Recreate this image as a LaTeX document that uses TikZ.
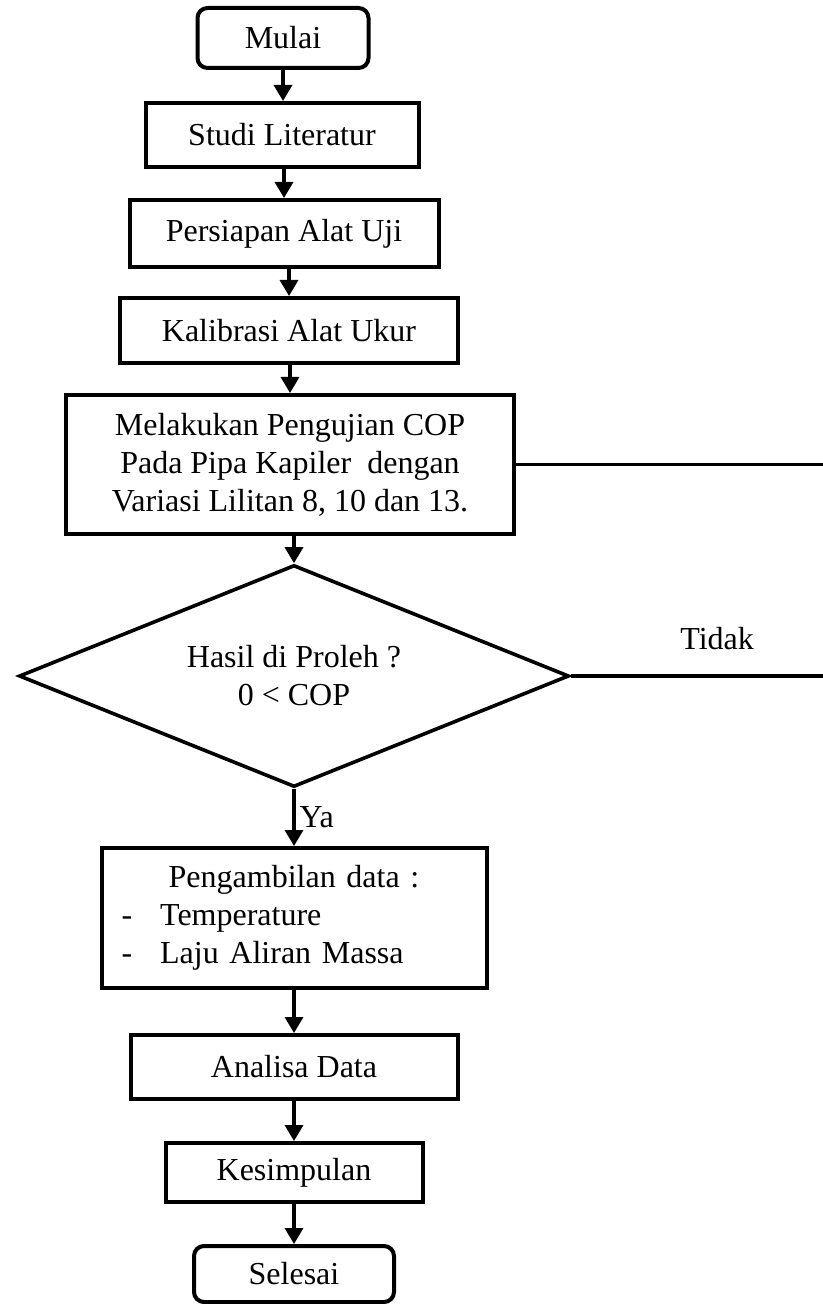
\documentclass[tikz,border=0pt]{standalone}
\usepackage{fontspec}
\setmainfont{Liberation Serif}
\usetikzlibrary{shapes.geometric,arrows.meta}

\newcommand{\butir}[1]{\makebox[172.5pt][l]{-\hspace{14pt}#1}}

\begin{document}
\begin{tikzpicture}[x=0.5pt,y=-0.5pt,
        font=\fontsize{16}{19}\selectfont,
        proses/.style = {draw,line width=2pt,align=center,inner sep=0pt},
        terminal/.style = {proses,rounded corners=5pt},
        keputusan/.style = {draw,line width=1.8pt,diamond,aspect=2.48,
            align=center,inner sep=0pt,minimum width=275pt,minimum height=111pt},
        panah/.style = {line width=1.7pt,-{Triangle[length=8pt,width=9pt]}},
        garis/.style = {line width=1.7pt}]
    \useasboundingbox (0,0) rectangle (823,1304);

    % kotak-kotak
    \node[terminal,minimum width=85.5pt,minimum height=30pt]
        (mulai) at (283,38) {Mulai};
    \node[proses,minimum width=136.5pt,minimum height=32pt]
        (studi) at (282,135) {Studi Literatur};
    \node[proses,minimum width=154.5pt,minimum height=33.5pt]
        (persiapan) at (284,233.5) {Persiapan Alat Uji};
    \node[proses,minimum width=169pt,minimum height=32.5pt]
        (kalibrasi) at (289,330.5) {Kalibrasi Alat Ukur};
    \node[proses,minimum width=224pt,minimum height=69.5pt]
        (uji) at (290,464.5) {Melakukan Pengujian COP\\
        Pada Pipa Kapiler~ dengan\\ Variasi Lilitan 8, 10 dan 13.};
    \node[keputusan] (cek) at (294,676) {Hasil di Proleh ?\\ 0 < COP};
    \node[proses,minimum width=192.5pt,minimum height=70pt,
        inner xsep=10pt,text width=172.5pt]
        (ambil) at (294,918) {Pengambilan data :\\
        \butir{Temperature}\\ \butir{Laju Aliran Massa}};
    \node[proses,minimum width=163.5pt,minimum height=32pt]
        (analisa) at (294,1067) {Analisa Data};
    \node[proses,minimum width=128.5pt,minimum height=29.5pt]
        (simpul) at (294,1172.5) {Kesimpulan};
    \node[terminal,minimum width=100pt,minimum height=28pt]
        (selesai) at (294,1274) {Selesai};

    \coordinate (kanan1) at (823,464.5);
    \coordinate (kanan2) at (823,676);

    % panah
    \draw[panah] (mulai.south) -- (mulai.south |- studi.north);
    \draw[panah] (studi.south -| persiapan) -- (persiapan.north);
    \draw[panah] (persiapan.south -| kalibrasi) -- (kalibrasi.north);
    \draw[panah] (kalibrasi.south -| uji) -- (uji.north);
    \draw[panah] (uji.south -| cek) -- (cek.north);
    \draw[panah] (cek.south) -- node[right,inner sep=2pt] {Ya} (ambil.north);
    \draw[panah] (ambil.south) -- (analisa.north);
    \draw[panah] (analisa.south) -- (simpul.north);
    \draw[panah] (simpul.south) -- (selesai.north);

    % jalur tidak
    \draw[garis] (uji.east) -- (kanan1);
    \draw[garis] (cek.east) -- node[pos=0.58,above=9pt] {Tidak} (kanan2);
\end{tikzpicture}
\end{document}
